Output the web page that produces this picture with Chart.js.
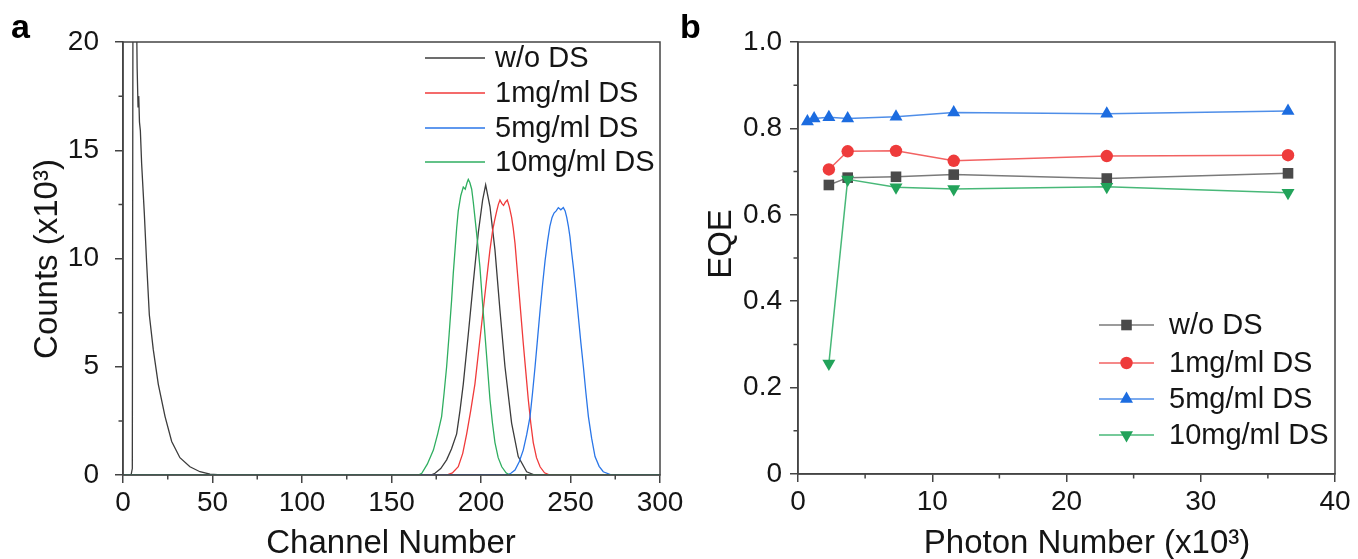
<!DOCTYPE html>
<html><head><meta charset="utf-8">
<script src="https://cdn.jsdelivr.net/npm/chart.js@4.4.0/dist/chart.umd.min.js"></script>
<style>
html,body{margin:0;padding:0;background:#fff;overflow:hidden;}
#wrap{position:relative;width:1358px;height:559px;background:#fff;}
#ca{position:absolute;left:0;top:0;}
#cb{position:absolute;left:680px;top:0;}
</style></head><body>
<div id="wrap"><canvas id="ca" width="700" height="559"></canvas><canvas id="cb" width="678" height="559"></canvas></div>
<script>
// ---------- shared ----------
const seriesLabels = ['w/o DS', '1mg/ml DS', '5mg/ml DS', '10mg/ml DS'];

// ---------- panel a : pulse height spectra ----------
const chBlack = [0, 4.5, 5.2, 5.6, 7.2, 7.9, 8.4, 8.8, 9.2, 9.7, 10.4, 11.9, 13.2, 14.7, 16.9, 19.7, 23.5, 27.2, 31.8, 37.4, 43, 48.6, 55, 172, 174.3, 177.5, 180.8, 183.5, 186.4, 188.3, 190.1, 192.9, 195.7, 198.5, 200.9, 202.6, 205, 207.8, 210.6, 213.4, 217.1, 220.8, 225.5, 230, 300];
const cntBlack = [0, 0, 0.3, 24, 24, 18.8, 17, 17.5, 16.3, 15.9, 14.4, 12.1, 9.8, 7.4, 5.8, 4.2, 2.7, 1.55, 0.8, 0.38, 0.15, 0.04, 0, 0, 0.08, 0.3, 0.7, 1.2, 1.9, 3.0, 4.2, 6.5, 8.9, 11.2, 12.7, 13.4, 12.4, 10.4, 7.6, 5.0, 2.4, 0.85, 0.15, 0, 0];

const chRed = [0, 180.8, 184, 187.3, 189.8, 192, 194.3, 196.6, 198.5, 200.4, 202, 203.5, 205, 206.5, 207.7, 208.8, 209.7, 210.6, 211.6, 212.6, 213.6, 214.7, 215.8, 217.1, 218, 219, 220.8, 222.2, 223.6, 225, 226.4, 227.8, 229.2, 231, 233, 235.5, 238.5, 300];
const cntRed = [0, 0, 0.1, 0.38, 1.0, 1.9, 3.0, 4.2, 5.6, 7.0, 8.2, 9.3, 10.4, 11.3, 11.8, 12.2, 12.5, 12.7, 12.55, 12.45, 12.6, 12.7, 12.4, 11.9, 11.4, 10.7, 8.9, 7.5, 6.1, 4.8, 3.5, 2.4, 1.5, 0.8, 0.38, 0.1, 0, 0];

const chBlue = [0, 214.4, 216.7, 219, 221.3, 223.6, 225.5, 227.4, 228.8, 230.2, 231.6, 233, 234.4, 235.8, 237.2, 238.5, 239.7, 240.8, 242, 243.2, 244.6, 246, 247, 247.9, 248.8, 249.7, 250.6, 251.6, 253, 254.4, 255.8, 257.2, 258.6, 260, 261.8, 263.7, 266, 268.3, 273, 300];
const cntBlue = [0, 0, 0.08, 0.23, 0.6, 1.15, 1.85, 2.7, 3.8, 5.0, 6.3, 7.6, 8.8, 9.9, 10.8, 11.5, 11.9, 12.1, 12.2, 12.35, 12.25, 12.35, 12.2, 11.9, 11.5, 11.0, 10.3, 9.6, 8.5, 7.3, 6.1, 5.0, 3.8, 2.7, 1.7, 0.85, 0.4, 0.15, 0, 0];

const chGreen = [0, 165, 166.9, 170, 173.4, 175.8, 178, 179.4, 180.8, 182.2, 183.6, 184.5, 185.5, 186.4, 187.3, 188.7, 190.1, 191.2, 192.2, 192.9, 193.8, 194.8, 195.7, 196.6, 198, 199.4, 200.8, 202.2, 203.6, 205, 206.4, 207.8, 209.6, 211.6, 214, 216, 300];
const cntGreen = [0, 0, 0.08, 0.5, 1.15, 1.9, 2.7, 3.8, 5.0, 6.5, 8.1, 9.3, 10.4, 11.4, 12.2, 12.9, 13.3, 13.2, 13.5, 13.65, 13.5, 13.2, 12.6, 11.9, 10.8, 9.6, 8.0, 6.5, 5.0, 3.5, 2.4, 1.5, 0.8, 0.38, 0.1, 0, 0];

const aXTicks = [0, 50, 100, 150, 200, 250, 300];
const aXMinor = [25, 75, 125, 175, 225, 275];
const aYTicks = [0, 5, 10, 15, 20];
const aYMinor = [2.5, 7.5, 12.5, 17.5];

// ---------- panel b : EQE vs photon number ----------
const photonAll = [0.7, 1.2, 2.3, 3.7, 7.3, 11.6, 23.0, 36.5];
const photonSub = [2.3, 3.7, 7.3, 11.6, 23.0, 36.5];
const eqeBlack = [0.669, 0.686, 0.688, 0.693, 0.684, 0.696];
const eqeRed = [0.705, 0.747, 0.748, 0.725, 0.736, 0.738];
const eqeBlue = [0.816, 0.823, 0.826, 0.823, 0.827, 0.837, 0.834, 0.840];
const eqeGreen = [0.256, 0.682, 0.664, 0.660, 0.665, 0.651];

const bXTicks = [0, 10, 20, 30, 40];
const bXMinor = [5, 15, 25, 35];
const bYTicks = [0, 0.2, 0.4, 0.6, 0.8, 1.0];
const bYMinor = [0.1, 0.3, 0.5, 0.7, 0.9];

// ---------- styling ----------
const FONT = "'Liberation Sans', Arial, Helvetica, sans-serif";
const AX = '#444';
const TXT = '#151515';
const lineColA = ['#3c3c3c', '#f03a3a', '#2a76e8', '#2fae60'];
const lineColB = ['#7a7a7a', '#f26262', '#4f8ee8', '#48b878'];
const markColB = ['#4a4a4a', '#ee3b3b', '#1c6ce0', '#22a35a'];

const pts = (xs, ys) => xs.map((x, i) => ({x: x, y: ys[i]}));

function makeScale(ticksArr, min, max, fitSize, isX, pad, cb) {
  return {
    type: 'linear', min: min, max: max,
    afterBuildTicks: s => { s.ticks = ticksArr.map(v => ({value: v})); },
    ticks: {font: {family: FONT, size: 28}, color: TXT, padding: pad, maxRotation: 0, autoSkip: false,
            callback: cb || (v => String(v))},
    grid: {drawOnChartArea: false, drawTicks: true, tickLength: 8, color: AX, lineWidth: 1.5},
    border: {display: true, color: AX, width: 1.5},
    afterFit: s => {
      if (isX) s.height = fitSize; else s.width = fitSize;
      s.paddingLeft = 0; s.paddingRight = 0; s.paddingTop = 0; s.paddingBottom = 0;
    }
  };
}

function decor(opts) {
  return {
    id: 'decor',
    afterDraw(chart) {
      const ctx = chart.ctx, a = chart.chartArea;
      const xs = chart.scales.x, ys = chart.scales.y;
      ctx.save();
      // frame
      ctx.strokeStyle = AX; ctx.lineWidth = 1.5;
      ctx.strokeRect(a.left, a.top, a.right - a.left, a.bottom - a.top);
      // minor ticks
      ctx.beginPath();
      opts.xMinor.forEach(v => { const p = xs.getPixelForValue(v); ctx.moveTo(p, a.bottom); ctx.lineTo(p, a.bottom + 4.5); });
      opts.yMinor.forEach(v => { const p = ys.getPixelForValue(v); ctx.moveTo(a.left, p); ctx.lineTo(a.left - 4.5, p); });
      ctx.stroke();
      // panel letter
      ctx.fillStyle = '#000';
      ctx.font = 'bold 34px ' + FONT;
      ctx.textAlign = 'left'; ctx.textBaseline = 'alphabetic';
      ctx.fillText(opts.letter, opts.letterX, 38);
      // axis titles
      ctx.fillStyle = TXT;
      ctx.font = '33px ' + FONT;
      ctx.textAlign = 'center';
      ctx.fillText(opts.xTitle, opts.xTitleX, 553);
      ctx.save();
      ctx.translate(opts.yTitleX, opts.yTitleY);
      ctx.rotate(-Math.PI / 2);
      ctx.fillText(opts.yTitle, 0, 0);
      ctx.restore();
      // legend
      ctx.font = '29px ' + FONT;
      ctx.textAlign = 'left'; ctx.textBaseline = 'middle';
      chart.data.datasets.forEach((ds, i) => {
        const y = opts.legRows[i];
        ctx.strokeStyle = ds.borderColor; ctx.lineWidth = 1.5;
        ctx.beginPath(); ctx.moveTo(opts.legX0, y); ctx.lineTo(opts.legX1, y); ctx.stroke();
        if (opts.markers) {
          ctx.fillStyle = ds.pointBackgroundColor;
          Chart.helpers.drawPoint(ctx, {pointStyle: ds.pointStyle, rotation: ds.pointRotation || 0, radius: ds.pointRadius, borderWidth: 0}, (opts.legX0 + opts.legX1) / 2, y);
        }
        ctx.fillStyle = TXT;
        ctx.fillText(ds.label, opts.legTextX, y + 1);
      });
      ctx.restore();
    }
  };
}

const common = {
  animation: false, responsive: false, maintainAspectRatio: false, devicePixelRatio: 1, events: [],
  plugins: {legend: {display: false}, tooltip: {enabled: false}}
};

// ---------- chart a ----------
const seriesA = [[chBlack, cntBlack], [chRed, cntRed], [chBlue, cntBlue], [chGreen, cntGreen]];
new Chart(document.getElementById('ca'), {
  type: 'scatter',
  data: {
    datasets: seriesA.map((s, i) => ({
      label: seriesLabels[i], data: pts(s[0], s[1]), showLine: true,
      borderColor: lineColA[i], borderWidth: 1.3, pointRadius: 0, tension: 0, order: 4 - i
    }))
  },
  options: Object.assign({}, common, {
    layout: {padding: {top: 42, right: 40, left: 0, bottom: 0}},
    scales: {
      x: makeScale(aXTicks, 0, 300, 84, true, 3),
      y: makeScale(aYTicks, 0, 20, 123, false, 16)
    }
  }),
  plugins: [decor({
    xMinor: aXMinor, yMinor: aYMinor, letter: 'a', letterX: 11,
    xTitle: 'Channel Number', xTitleX: 391, yTitle: 'Counts (x10³)', yTitleX: 57, yTitleY: 259,
    legRows: [58, 93, 128, 162], legX0: 425, legX1: 485, legTextX: 495, markers: false
  })]
});

// ---------- chart b ----------
const seriesB = [
  [photonSub, eqeBlack, 'rect', 0, 7.5],
  [photonSub, eqeRed, 'circle', 0, 6.2],
  [photonAll, eqeBlue, 'triangle', 0, 7.5],
  [photonSub, eqeGreen, 'triangle', 180, 7.5]
];
new Chart(document.getElementById('cb'), {
  type: 'scatter',
  data: {
    datasets: seriesB.map((s, i) => ({
      label: seriesLabels[i], data: pts(s[0], s[1]), showLine: true,
      borderColor: lineColB[i], borderWidth: 1.5, tension: 0,
      pointStyle: s[2], pointRotation: s[3], pointRadius: s[4],
      pointBackgroundColor: markColB[i], pointBorderWidth: 0, order: 4 - i
    }))
  },
  options: Object.assign({}, common, {
    layout: {padding: {top: 42, right: 23, left: 0, bottom: 0}},
    scales: {
      x: makeScale(bXTicks, 0, 40, 85, true, 3),
      y: makeScale(bYTicks, 0, 1, 118, false, 8, v => (v === 0 ? '0' : v.toFixed(1)))
    }
  }),
  plugins: [decor({
    xMinor: bXMinor, yMinor: bYMinor, letter: 'b', letterX: 0,
    xTitle: 'Photon Number (x10³)', xTitleX: 407, yTitle: 'EQE', yTitleX: 51, yTitleY: 244,
    legRows: [325, 363, 399, 435], legX0: 419, legX1: 474, legTextX: 489, markers: true
  })]
});
</script>
</body></html>
